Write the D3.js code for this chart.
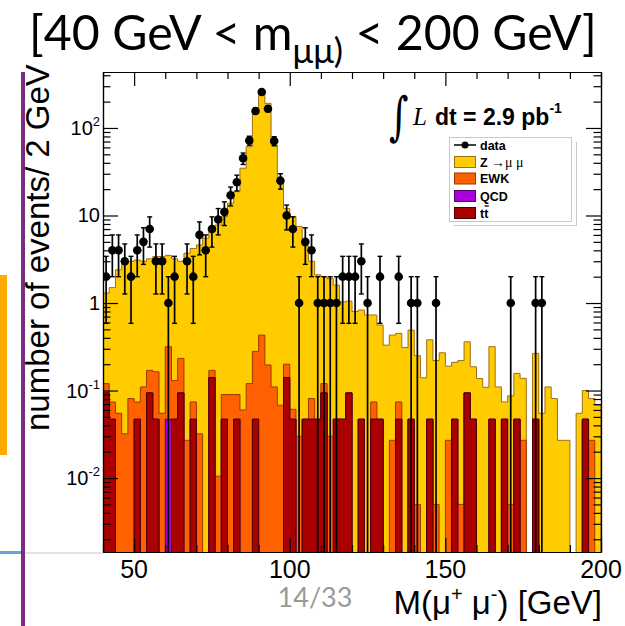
<!DOCTYPE html>
<html><head><meta charset="utf-8">
<script src="https://cdn.jsdelivr.net/npm/d3@7"></script>
<style>body{margin:0;background:#fff;} svg{display:block}</style>
</head><body>
<svg id="c" width="625" height="626"></svg>
<script>
// ---------------- data (2 GeV bins from 40 to 200 GeV) ----------------
const massMin = 40, massMax = 200, binWidth = 2;
const xTickValues = [50, 100, 150, 200];
const yTickValues = [0.01, 0.1, 1, 10, 100];
const yTickLabels = [["10","-2"],["10","-1"],["1",""],["10",""],["10","2"]];
const legendLabels = ["data", "Z \u2192\u03bc \u03bc", "EWK", "QCD", "tt"];

// observed events per bin
const dataCounts = [2,4,4,3,2,4,5,7,3,3, 1,2,0,3,2,6,4,7,9,11, 17,24,45,72,156,258,166,71,25,10,
  7,1,5,4,1,1,1,1,2,2, 2,3,1,0,2,0,0,2,0,1, 1,0,0,1,0,0,0,0,0,0, 0,0,0,0,0,1,0,0,0,1, 1,0,0,0,0,0,0,0,0,0];

// stacked MC levels as drawn (each level includes the ones below it)
const stackZ = [1.3,1.5,2.4,2.8,3.0,3.1,3.0,3.2,3.4,3.4, 3.5,3.2,3.0,3.7,4.2,4.6,5.5,6.5,7.8,9.7,
  13.8,18.7,34.7,61,147,272,191,64,25,12, 9.7,7.5,4.5,3.0,2.1,2.0,1.9,1.6,1.03,1.05,
  0.8,0.83,0.73,0.73,0.56,0.33,0.43,0.45,0.31,0.49, 0.25,0.14,0.38,0.22,0.27,0.19,0.21,0.22,0.36,0.187,
  0.137,0.109,0.317,0.11,0.074,0.087,0.157,0.138,0,0.266, 0.055,0.11,0.081,0.027,0.027,0,0.055,0.1,0.081,0.068];
const stackEWK = [0.12,0.074,0.055,0.032,0.081,0.074,0.11,0.17,0.164,0.055, 0.317,0.13,0.233,0.027,0.074,0.032,0,0.17,0.0105,0.09,
  0.09,0.09,0.06,0.12,0.28,0.43,0.196,0.11,0.068,0.2, 0.061,0.03,0.047,0.081,0.047,0.12,0.03,0.047,0.047,0.094,
  0,0.047,0,0.074,0.047,0,0.027,0.074,0,0.047, 0.005,0,0.047,0.005,0,0.027,0.047,0.005,0.094,0.047,
  0,0,0.047,0,0.047,0.005,0.047,0.027,0,0.047, 0,0,0,0,0,0,0,0.047,0.027,0];
const stackQCD = [0.094,0.047,0,0,0,0.047,0,0.094,0.047,0, 0.047,0.047,0.094,0,0.047,0,0,0.141,0,0.047,
  0,0.047,0,0,0.047,0,0,0,0,0.141, 0.047,0,0.047,0.047,0.047,0.094,0,0.047,0.047,0.094,
  0,0.047,0,0.047,0.047,0,0,0.047,0,0.047, 0,0,0.047,0,0,0,0.047,0,0.094,0.047,
  0,0,0.047,0,0.047,0,0.047,0,0,0.047, 0,0,0,0,0,0,0,0.047,0,0];
const stackTT = [0.094,0.047,0,0,0,0.047,0,0.094,0.047,0, 0,0.047,0.094,0,0.047,0,0,0.141,0,0.047,
  0,0.047,0,0,0.047,0,0,0,0,0.141, 0.047,0,0.047,0.047,0.047,0.094,0,0.047,0.047,0.094,
  0,0.047,0,0.047,0.047,0,0,0.047,0,0.047, 0,0,0.047,0,0,0,0.047,0,0.094,0.047,
  0,0,0.047,0,0.047,0,0.047,0,0,0.047, 0,0,0,0,0,0,0,0.047,0,0];

// ---------------- drawing ----------------
const svg = d3.select("#c");
svg.append("rect").attr("width",625).attr("height",626).attr("fill","#fff");

const x = d3.scaleLinear().domain([massMin, massMax]).range([103, 601]);
const y = d3.scaleLog().domain([0.00143, 436]).range([552, 72]);
const [yb, yt] = y.range();

// slide decorations
svg.append("rect").attr("x",0).attr("y",275).attr("width",7).attr("height",180).attr("fill","#ffaa00");
svg.append("rect").attr("x",0).attr("y",551).attr("width",22).attr("height",3).attr("fill","#6aa2da");
svg.append("rect").attr("x",25).attr("y",552).attr("width",78).attr("height",2).attr("fill","#e4e4e4");
svg.append("rect").attr("x",21).attr("y",72).attr("width",4).attr("height",554).attr("fill","#7d2c83");

svg.append("defs").append("clipPath").attr("id","plot")
  .append("rect").attr("x",x(massMin)).attr("y",yt).attr("width",x(massMax)-x(massMin)).attr("height",yb-yt);
const g = svg.append("g").attr("clip-path","url(#plot)");

function stepPath(vals){
  let p = `M${x(massMin)},${yb+1}`;
  vals.forEach((v,i)=>{
    const lo = massMin + binWidth*i, hi = lo + binWidth;
    const yy = v > 0 ? y(v) : yb+1;
    p += `L${x(lo)},${yy}L${x(hi)},${yy}`;
  });
  return p + `L${x(massMax)},${yb+1}Z`;
}
const layers = [
  {vals: stackZ,   fill:"#ffcc00", stroke:"#a06e18"},
  {vals: stackEWK, fill:"#ff6000", stroke:"#9a3a00"},
  {vals: stackQCD, fill:"#aa00dd", stroke:"#55006a"},
  {vals: stackTT,  fill:"#aa0000", stroke:"#4a0000"}
];
layers.forEach(l => g.append("path").attr("d", stepPath(l.vals))
  .attr("fill", l.fill).attr("stroke", l.stroke).attr("stroke-width", 1));

// data points with sqrt(N) errors
const pts = dataCounts.map((n,i)=>({n, m: massMin + binWidth*(i+0.5)})).filter(d=>d.n>0);
const dg = g.append("g");
pts.forEach(d=>{
  const e = Math.sqrt(d.n);
  const cx = x(d.m);
  const top = y(d.n+e);
  const lowV = d.n - e;
  const bot = lowV > 0.00143 ? y(lowV) : yb+2;
  dg.append("line").attr("x1",cx).attr("x2",cx).attr("y1",top).attr("y2",bot).attr("stroke","#000").attr("stroke-width",1.7);
  dg.append("line").attr("x1",cx-2.5).attr("x2",cx+2.5).attr("y1",top).attr("y2",top).attr("stroke","#000").attr("stroke-width",1.4);
  if (lowV > 0.00143) dg.append("line").attr("x1",cx-2.5).attr("x2",cx+2.5).attr("y1",bot).attr("y2",bot).attr("stroke","#000").attr("stroke-width",1.4);
  dg.append("circle").attr("cx",cx).attr("cy",y(d.n)).attr("r",4.3).attr("fill","#000");
});

// axes
const minorY = [];
for (let e=-3;e<=2;e++) for (let k=2;k<=9;k++){ const v=k*Math.pow(10,e); if (v>0.00143 && v<436) minorY.push(v); }
const minorX = d3.range(40, 201, 10).filter(v=>!xTickValues.includes(v));
function styleAxis(sel){ sel.select(".domain").attr("stroke","#000").attr("stroke-width",1.2); sel.selectAll(".tick line").attr("stroke","#000").attr("stroke-width",1.2); sel.selectAll("text").remove(); }
svg.append("g").attr("transform",`translate(${x(massMin)},0)`).call(d3.axisRight(y).tickValues(yTickValues).tickSize(15).tickSizeOuter(0)).call(styleAxis);
svg.append("g").attr("transform",`translate(${x(massMin)},0)`).call(d3.axisRight(y).tickValues(minorY).tickSize(7.5).tickSizeOuter(0)).call(styleAxis);
svg.append("g").attr("transform",`translate(${x(massMax)},0)`).call(d3.axisLeft(y).tickValues(yTickValues).tickSize(15).tickSizeOuter(0)).call(styleAxis);
svg.append("g").attr("transform",`translate(${x(massMax)},0)`).call(d3.axisLeft(y).tickValues(minorY).tickSize(7.5).tickSizeOuter(0)).call(styleAxis);
svg.append("g").attr("transform",`translate(0,${yb})`).call(d3.axisTop(x).tickValues(xTickValues).tickSize(14).tickSizeOuter(0)).call(styleAxis);
svg.append("g").attr("transform",`translate(0,${yb})`).call(d3.axisTop(x).tickValues(minorX).tickSize(7).tickSizeOuter(0)).call(styleAxis);
svg.append("g").attr("transform",`translate(0,${yt})`).call(d3.axisBottom(x).tickValues(xTickValues).tickSize(14).tickSizeOuter(0)).call(styleAxis);
svg.append("g").attr("transform",`translate(0,${yt})`).call(d3.axisBottom(x).tickValues(minorX).tickSize(7).tickSizeOuter(0)).call(styleAxis);

// tick labels
const font = "'Liberation Sans', Arial, Helvetica, sans-serif";
yTickValues.forEach((v,i)=>{
  const [base, sup] = yTickLabels[i];
  const t = svg.append("text").attr("x",100).attr("y",y(v)+7).attr("text-anchor","end")
    .attr("font-family",font).attr("font-size",20).attr("fill","#000");
  t.append("tspan").text(base);
  if (sup) t.append("tspan").attr("font-size",13).attr("dy",-9).text(sup);
});
xTickValues.forEach(v=>{
  svg.append("text").attr("x",x(v)).attr("y",578).attr("text-anchor","middle")
    .attr("font-family",font).attr("font-size",25).text(v);
});

// axis titles
const xt = svg.append("text").attr("x",602).attr("y",614).attr("text-anchor","end")
  .attr("font-family",font).attr("font-size",33);
xt.append("tspan").text("M(\u03bc");
xt.append("tspan").attr("font-size",20).attr("dy",-13).text("+");
xt.append("tspan").attr("dy",13).text(" \u03bc");
xt.append("tspan").attr("font-size",20).attr("dy",-13).text("-");
xt.append("tspan").attr("dy",13).text(") [GeV]");

svg.append("text").attr("transform","translate(49,431) rotate(-90)")
  .attr("font-family",font).attr("font-size",33).text("number of events/ 2 GeV");

// luminosity label
svg.append("text").attr("transform","translate(389,134) scale(0.72,1)").attr("font-family","'DejaVu Serif', serif").attr("font-size",52).text("\u222b");
svg.append("text").attr("x",413).attr("y",125).attr("font-family","'Liberation Serif', serif").attr("font-style","italic").attr("font-size",25).text("L");
const lum = svg.append("text").attr("x",435).attr("y",125).attr("font-family",font).attr("font-weight","bold").attr("font-size",23);
lum.append("tspan").text("dt = 2.9 pb");
lum.append("tspan").attr("font-size",14).attr("dy",-12).text("-1");

// legend
const lg = svg.append("g");
lg.append("path").attr("d","M576.5,142 L576.5,225.5 L454,225.5").attr("fill","none").attr("stroke","#c8c8c8").attr("stroke-width",1);
lg.append("rect").attr("x",449.5).attr("y",137.5).attr("width",122).attr("height",84).attr("fill","#fff").attr("stroke","#c8c8c8");
const rowY = [145, 162, 178.5, 196, 213];
lg.append("line").attr("x1",454).attr("x2",476).attr("y1",rowY[0]).attr("y2",rowY[0]).attr("stroke","#000").attr("stroke-width",1.5);
lg.append("circle").attr("cx",465).attr("cy",rowY[0]).attr("r",3.5).attr("fill","#000");
const swatch = [layers[0],layers[1],layers[2],layers[3]];
swatch.forEach((l,i)=>{
  lg.append("rect").attr("x",454.5).attr("y",rowY[i+1]-5.5).attr("width",21).attr("height",11)
    .attr("fill",l.fill).attr("stroke",l.stroke).attr("stroke-width",1);
});
legendLabels.forEach((s,i)=>{
  const t = lg.append("text").attr("x",480).attr("y",rowY[i]+4.5).attr("font-family",font).attr("font-weight","bold").attr("font-size",12.5);
  if (i===1){
    t.append("tspan").text("Z ");
    t.append("tspan").attr("font-weight","normal").attr("font-family","'Liberation Serif', serif").attr("font-size",14).text("\u2192\u03bc  \u03bc");
  } else t.text(s);
});
lg.append("line").attr("x1",484.6).attr("x2",488.8).attr("y1",rowY[4]-7).attr("y2",rowY[4]-7).attr("stroke","#000").attr("stroke-width",1.3);

// slide title (white band covers top of plot)
svg.append("rect").attr("x",95).attr("y",0).attr("width",530).attr("height",72).attr("fill","#fff");
svg.append("rect").attr("x",0).attr("y",0).attr("width",95).attr("height",60).attr("fill","#fff");
const tfont = "Lato, 'Open Sans', sans-serif";
const title = svg.append("text").attr("x",313).attr("y",50).attr("text-anchor","middle")
  .attr("font-family",tfont).attr("font-size",46).attr("fill","#000");
title.append("tspan").text("[40 GeV < m");
title.append("tspan").attr("font-size",33).attr("dy",13).text("\u03bc\u03bc)");
title.append("tspan").attr("dy",-13).text(" < 200 GeV]");
const tw = title.node().getComputedTextLength();
title.attr("font-size", 46*568/tw);
title.selectAll("tspan").filter((d,i)=>i===1).attr("font-size", 33*568/tw);

// page number
svg.append("text").attr("x",315).attr("y",607).attr("text-anchor","middle")
  .attr("font-family",tfont).attr("font-size",27).attr("fill","#9a9a9a").text("14/33");
</script>
</body></html>
